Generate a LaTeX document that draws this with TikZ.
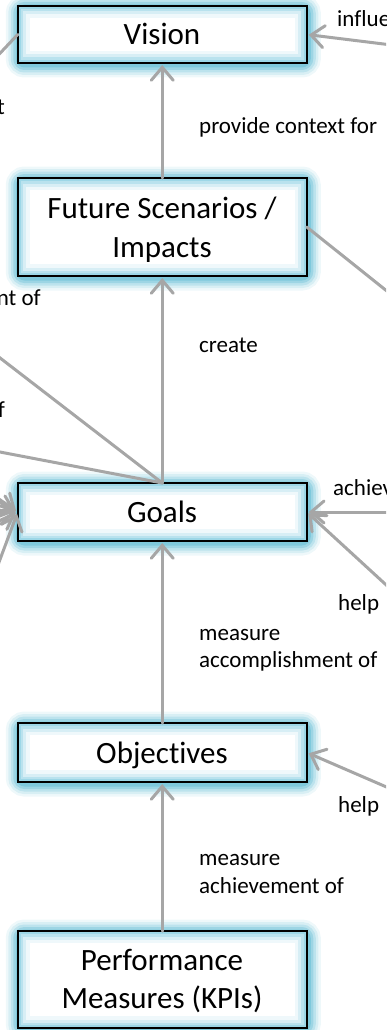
\documentclass[tikz,border=0pt]{standalone}
\usepackage{fontspec}
\setmainfont{Carlito}[Ligatures={NoCommon}]
\usetikzlibrary{arrows.meta}
\definecolor{conncol}{RGB}{166,166,166}
\definecolor{glowcol}{RGB}{90,185,210}
\definecolor{glowin}{RGB}{130,205,225}
\begin{document}
\begin{tikzpicture}[x=1pt,y=-1pt,
  boxshape/.style={minimum width=289pt, inner sep=0pt, outer sep=0pt},
  boxtext/.style={font=\fontsize{31}{39}\selectfont, anchor=base, inner sep=0pt},
  lbl/.style={font=\fontsize{23}{27}\selectfont, anchor=base west, inner sep=0pt},
  lble/.style={lbl, anchor=base east},
  conn/.style={draw=conncol, line width=3pt, line cap=round},
  arr/.style={conn, shorten >=2pt, -{Straight Barb[length=13pt,width=22pt,line cap=round]}},
]
\useasboundingbox (0,0) rectangle (386,1030);
\clip (0,0) rectangle (386,1030);
% boxes
\node[boxshape, minimum height=57pt] (vision) at (162.25,34.5) {};
\node[boxshape, minimum height=98pt] (future) at (162.25,227) {};
\node[boxshape, minimum height=58pt] (goals) at (162.25,512) {};
\node[boxshape, minimum height=59pt] (obj) at (162.25,752.5) {};
\node[boxshape, minimum height=97pt] (kpi) at (162.25,979.5) {};
\foreach \n in {vision,future,goals,obj,kpi}{
  \foreach \w/\o in {26/0.1,21/0.15,16/0.22,11/0.32,6/0.45}
    \draw[glowcol, line width=\w pt, opacity=\o, rounded corners=6pt]
      ([shift={(1,1.5)}]\n.south west) rectangle ([shift={(1,1.5)}]\n.north east);
  \fill[white] (\n.south west) rectangle (\n.north east);
  \begin{scope}
    \clip (\n.south west) rectangle (\n.north east);
    \foreach \w/\o in {24/0.12,17/0.22,11/0.35,6/0.5}
      \draw[glowin, line width=\w pt, opacity=\o] (\n.south west) rectangle (\n.north east);
  \end{scope}
  \draw[black, line width=1.6pt] (\n.south west) rectangle (\n.north east);
}
% box texts
\node[boxtext] (visiont) at (162,45) {Vision};
\node[boxtext] (futuret) at (162,218) {Future Scenarios /};
\node[boxtext] (futuret2) at (162,257) {Impacts};
\node[boxtext] (goalst) at (162,522) {Goals};
\node[boxtext] (objt) at (162,763) {Objectives};
\node[boxtext] (kpit) at (162,970) {Performance};
\node[boxtext] (kpit2) at (162,1008) {Measures (KPIs)};
% outside coordinates
\coordinate (vL) at (-12,66);
\coordinate (vR) at (420,48.5);
\coordinate (fR) at (420,317.5);
\coordinate (gL1) at (-20,342.5);
\coordinate (gL2) at (-20,448.2);
\coordinate (gA1) at (-20,486);
\coordinate (gA2) at (-20,499);
\coordinate (gA3) at (-20,514);
\coordinate (gA4) at (-20,530);
\coordinate (gA5) at (-20,613);
\coordinate (gR1) at (420,512);
\coordinate (gR2) at (420,616);
\coordinate (oR) at (420,801.5);
% connectors
\draw[arr] (future.north) -- (vision.south);
\draw[arr] (goals.north) -- (future.south);
\draw[arr] (obj.north) -- (goals.south);
\draw[arr] (kpi.north) -- (obj.south);
\draw[conn] (vision.west) -- (vL);
\draw[arr] (vR) -- (vision.east);
\draw[conn] (future.east) -- (fR);
\draw[conn] (goals.north) -- (gL1);
\draw[conn] (goals.north) -- (gL2);
\foreach \c in {gA1,gA2,gA3,gA4,gA5} \draw[arr] (\c) -- (goals.west);
\draw[arr] (gR1) -- (goals.east);
\draw[arr] (gR2) -- (goals.east);
\draw[arr] (oR) -- (obj.east);
% labels
\node[lble] (l1) at (5,115) {t};
\node[lble] (l2) at (41,305) {nt of};
\node[lble] (l3) at (5,417) {f};
\node[lbl] (l4) at (337,27) {influe};
\node[lbl] (l5) at (199,133) {provide context for};
\node[lbl] (l6) at (199,352) {create};
\node[lbl] (l7) at (333,495) {achiev};
\node[lbl] (l8) at (338,610) {help};
\node[lbl] (l9) at (199,640) {measure};
\node[lbl] (l10) at (199,667) {accomplishment of};
\node[lbl] (l11) at (338,812) {help};
\node[lbl] (l12) at (199,865) {measure};
\node[lbl] (l13) at (199,893) {achievement of};
\end{tikzpicture}
\end{document}
